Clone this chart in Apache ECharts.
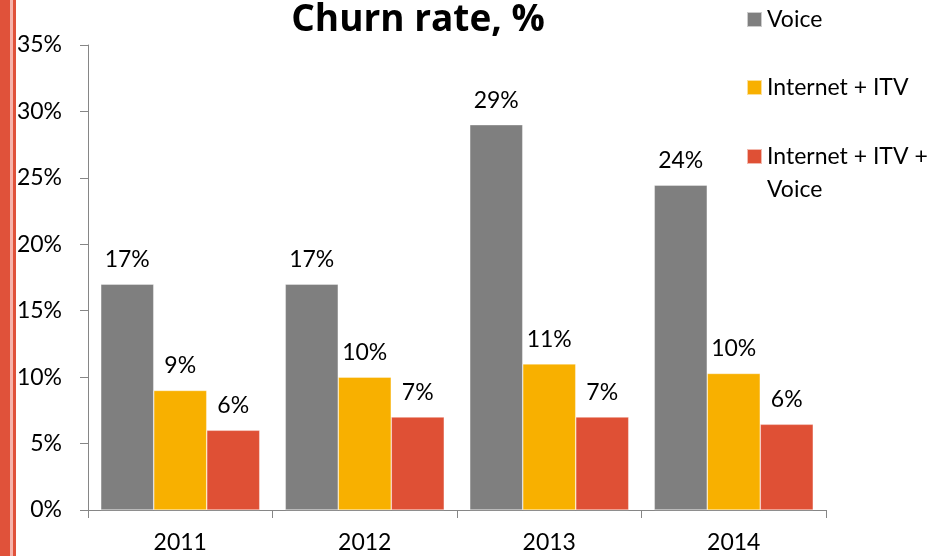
<!DOCTYPE html>
<html>
<head>
<meta charset="utf-8">
<script src="https://cdn.jsdelivr.net/npm/echarts@6/dist/echarts.min.js"></script>
<style>
  html, body { margin: 0; padding: 0; background: #ffffff; }
  #chart { width: 947px; height: 556px; }
</style>
</head>
<body>
<div id="chart"></div>
<script>
// Churn rate by service bundle, per year (percent)
const years = ['2011', '2012', '2013', '2014'];
const voice = [17, 17, 29, 24.45];
const internetItv = [9, 10, 11, 10.28];
const internetItvVoice = [6, 7, 7, 6.45];
const yTicks = { min: 0, max: 35, interval: 5 };

const FONT = 'Lato, "Open Sans", sans-serif';
const FS = 23;
const names = ['Voice', 'Internet + ITV', 'Internet + ITV + Voice'];
const colors = ['#7f7f7f', '#f8b000', '#df5035'];

const chart = echarts.init(document.getElementById('chart'), null, { renderer: 'canvas' });

function barSeries(name, data, color) {
  return {
    name: name,
    type: 'bar',
    data: data,
    barWidth: 53,
    barGap: '0%',
    itemStyle: { color: color, borderColor: 'rgba(255,255,255,0.6)', borderWidth: 0.6 },
    label: {
      show: true,
      position: 'top',
      distance: 13,
      color: '#000',
      fontFamily: FONT,
      fontSize: FS,
      formatter: p => Math.round(p.value) + '%'
    }
  };
}

// one legend block per series so each can be placed on its own row
const legendBase = {
  orient: 'vertical',
  left: 741,
  itemWidth: 15,
  itemHeight: 15,
  icon: 'rect',
  selectedMode: false,
  textStyle: { fontFamily: FONT, fontSize: FS, color: '#000', lineHeight: 33 }
};

chart.setOption({
  animation: false,
  title: {
    text: 'Churn rate, %',
    left: 413,
    textAlign: 'center',
    top: -3,
    textStyle: { fontFamily: '"Open Sans", Lato, sans-serif', fontSize: 37, fontWeight: 'bold', color: '#000' }
  },
  legend: [
    Object.assign({}, legendBase, { data: [names[0]], top: -2 }),
    Object.assign({}, legendBase, { data: [names[1]], top: 66 }),
    Object.assign({}, legendBase, {
      data: [names[2]],
      top: 102,
      // leading blank line keeps the first text line level with the swatch
      formatter: () => '\nInternet + ITV +\nVoice'
    })
  ],
  grid: { left: 88, right: 121, top: 45, bottom: 46, containLabel: false },
  xAxis: {
    type: 'category',
    data: years,
    axisLine: { lineStyle: { color: '#868686', width: 1 } },
    axisTick: { show: true, length: 8, lineStyle: { color: '#868686' } },
    axisLabel: { color: '#000', fontFamily: FONT, fontSize: FS, margin: 21 }
  },
  yAxis: {
    type: 'value',
    min: yTicks.min,
    max: yTicks.max,
    interval: yTicks.interval,
    axisLine: { show: true, lineStyle: { color: '#868686', width: 1 } },
    axisTick: { show: true, length: 8, lineStyle: { color: '#868686' } },
    splitLine: { show: false },
    axisLabel: { color: '#000', fontFamily: FONT, fontSize: FS, margin: 26, formatter: '{value}%' }
  },
  series: [
    barSeries(names[0], voice, colors[0]),
    barSeries(names[1], internetItv, colors[1]),
    barSeries(names[2], internetItvVoice, colors[2])
  ],
  graphic: [
    { type: 'rect', left: 0, top: 0, shape: { width: 10, height: 556 }, style: { fill: '#e0523a' } },
    { type: 'rect', left: 10, top: 0, shape: { width: 3, height: 556 }, style: { fill: '#f7b3aa' } },
    { type: 'rect', left: 13, top: 0, shape: { width: 3, height: 556 }, style: { fill: '#e0523a' } }
  ]
});
</script>
</body>
</html>
